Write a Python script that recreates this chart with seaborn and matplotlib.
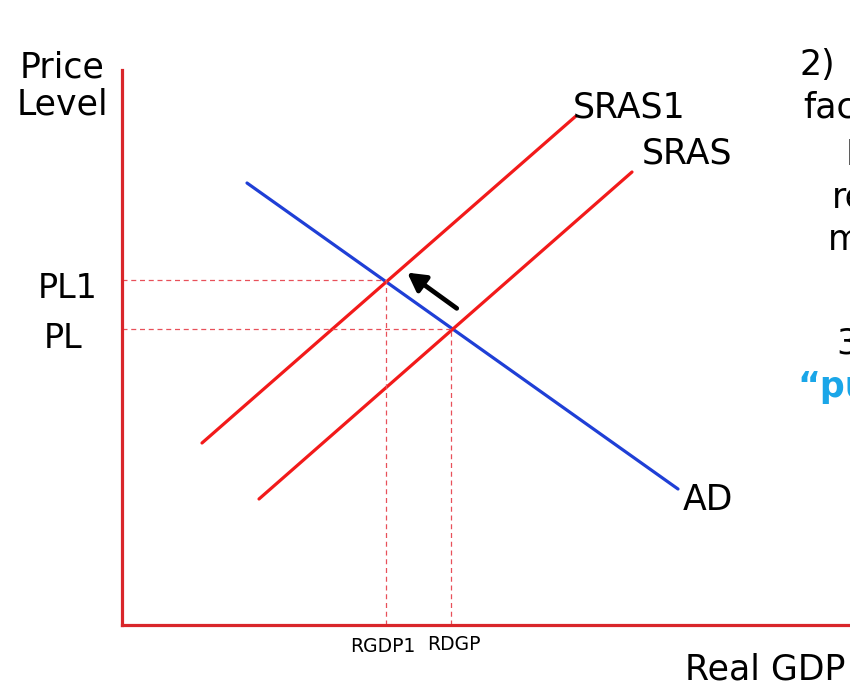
import matplotlib
matplotlib.use("Agg")
import pandas as pd
import matplotlib.pyplot as plt
import seaborn as sns

# curve end points (chart units, origin at the axis corner)
ad_x = [125, 556]
ad_y = [442, 136]
sras_x = [137, 510]
sras_y = [126, 453]
sras1_x = [80, 454]
sras1_y = [182, 509]

# equilibrium points
eq_gdp = [264, 329]
eq_pl = [345, 296]
pl_labels = ["PL1", "PL"]
gdp_labels = ["RGDP1", "RDGP"]

RED = "#f21a1a"
AXIS_RED = "#d9262a"
BLUE = "#1f3fd6"
DASH = "#e8505a"


def make_df(xs, ys, name):
    return pd.DataFrame({"x": xs, "y": ys, "curve": name})


def main():
    sns.set_theme(style="white")
    plt.rcParams["font.family"] = ["DejaVu Sans"]
    plt.rcParams["text.color"] = "black"

    fig = plt.figure(figsize=(8.5, 6.94), dpi=100)
    ax = fig.add_axes([122 / 850, 69 / 694, 728 / 850, 555 / 694])
    ax.set_xlim(0, 728)
    ax.set_ylim(0, 555)

    curves = pd.concat([
        make_df(ad_x, ad_y, "AD"),
        make_df(sras_x, sras_y, "SRAS"),
        make_df(sras1_x, sras1_y, "SRAS1"),
    ])
    sns.lineplot(data=curves, x="x", y="y", hue="curve",
                 palette={"AD": BLUE, "SRAS": RED, "SRAS1": RED},
                 linewidth=2.3, legend=False, ax=ax, sort=False)

    # dashed guides
    for gx, gy in zip(eq_gdp, eq_pl):
        ax.plot([0, gx], [gy, gy], ls=(0, (4, 3)), color=DASH, lw=0.9)
        ax.plot([gx, gx], [0, gy], ls=(0, (4, 3)), color=DASH, lw=0.9)

    # shift arrow
    ax.annotate("", xy=(eq_gdp[0] + 19, eq_pl[0] + 9),
                xytext=(eq_gdp[1] + 8, eq_pl[1] + 19),
                arrowprops=dict(arrowstyle="-|>,head_width=0.5,head_length=0.9",
                                color="black", lw=3.4))

    for side in ["top", "right"]:
        ax.spines[side].set_visible(False)
    for side in ["left", "bottom"]:
        ax.spines[side].set_color(AXIS_RED)
        ax.spines[side].set_linewidth(2.3)
    ax.set_xticks([])
    ax.set_yticks([])
    ax.set_xlabel("")
    ax.set_ylabel("")

    big = 25
    ax.text(-60, 539, "Price\nLevel", fontsize=big, ha="center", va="center",
            multialignment="center", linespacing=1.1, clip_on=False)
    ax.text(563, -44, "Real GDP", fontsize=big, ha="left", va="center", clip_on=False)

    ax.text(-54, eq_pl[0] - 8, pl_labels[0], fontsize=24, ha="center", va="center", clip_on=False)
    ax.text(-59, eq_pl[1] - 9, pl_labels[1], fontsize=24, ha="center", va="center", clip_on=False)
    ax.text(eq_gdp[0] - 3, -22, gdp_labels[0], fontsize=13.5, ha="center", va="center", clip_on=False)
    ax.text(eq_gdp[1] + 3, -20, gdp_labels[1], fontsize=13.5, ha="center", va="center", clip_on=False)

    ax.text(451, 517, "SRAS1", fontsize=big, ha="left", va="center", clip_on=False)
    ax.text(520, 472, "SRAS", fontsize=big, ha="left", va="center", clip_on=False)
    ax.text(561, 125, "AD", fontsize=big, ha="left", va="center", clip_on=False)

    # cut-off notes on the right edge
    notes = [(678, 560, "2)"), (681, 517, "fac"), (724, 470, "I"),
             (710, 428, "re"), (706, 385, "m"), (714, 282, "3")]
    for nx, ny, s in notes:
        ax.text(nx, ny, s, fontsize=big, ha="left", va="center", clip_on=False)
    ax.text(675, 238, "\u201cpu", fontsize=big, ha="left", va="center",
            color="#1aa6e8", fontweight="bold", clip_on=False)

    fig.savefig("out.png", dpi=100)
    plt.close(fig)


if __name__ == "__main__":
    main()
